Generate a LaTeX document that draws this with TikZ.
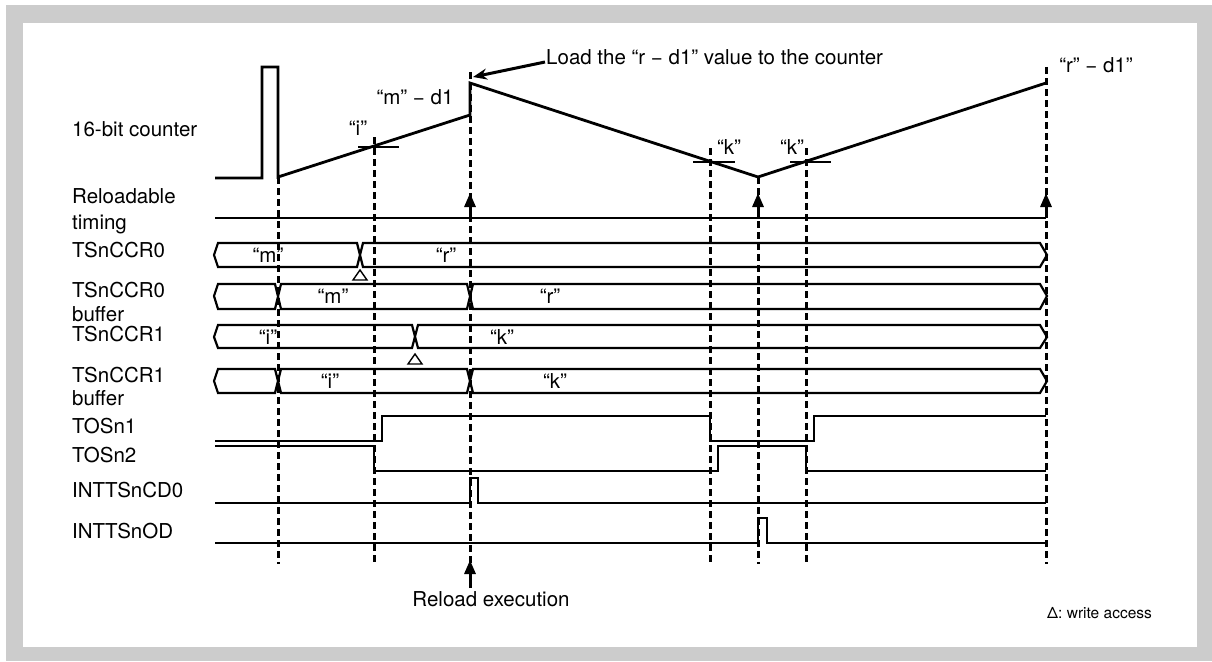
\documentclass[tikz,border=0pt]{standalone}
\usepackage{fontspec}
\setmainfont{TeX Gyre Heros}
\usetikzlibrary{arrows.meta}
\definecolor{framegray}{HTML}{CCCCCC}
\begin{document}
\begin{tikzpicture}[x=1pt,y=-1pt,
  wave/.style={line width=2.8pt, line join=miter},
  vdash/.style={line width=3pt, dash pattern=on 7pt off 4pt},
  bus/.style={line width=2.2pt, line join=miter},
  lbl/.style={font=\fontsize{20.5}{23}\selectfont, inner sep=0pt},
  sig/.style={lbl, anchor=base west},
  uparrow/.style={line width=3pt, -{Triangle[length=14pt,width=11pt]}},
  wtri/.style={line width=1.4pt, line join=miter}]
\useasboundingbox (0,0) rectangle (1212,661);
\fill[white] (0,0) rectangle (1212,661);
\fill[framegray] (6,5) rectangle (1212,661);
\fill[white] (23,23) rectangle (1197,647);

% dashed guide lines
\coordinate (d1t) at (278,177); \coordinate (d1b) at (278,564);
\coordinate (d2t) at (374,137); \coordinate (d2b) at (374,564);
\coordinate (d3t) at (470,72);  \coordinate (d3b) at (470,564);
\coordinate (d4t) at (710,148); \coordinate (d4b) at (710,564);
\coordinate (d5t) at (758,177); \coordinate (d5b) at (758,564);
\coordinate (d6t) at (806,148); \coordinate (d6b) at (806,564);
\coordinate (d7t) at (1046,67); \coordinate (d7b) at (1046,564);
\foreach \i in {1,...,7} {\draw[vdash] (d\i t) -- (d\i b);}

% signal labels
\node[sig] (lcnt) at (72,136) {16-bit counter};
\node[sig] (lrel1) at (72,203) {Reloadable};
\node[sig] (lrel2) at (72,229) {timing};
\node[sig] (lccr0) at (72,257) {TSnCCR0};
\node[sig] (lccr0b1) at (72,297) {TSnCCR0};
\node[sig] (lccr0b2) at (72,321) {buffer};
\node[sig] (lccr1) at (72,341) {TSnCCR1};
\node[sig] (lccr1b1) at (72,382) {TSnCCR1};
\node[sig] (lccr1b2) at (72,405) {buffer};
\node[sig] (ltos1) at (72,433) {TOSn1};
\node[sig] (ltos2) at (72,462) {TOSn2};
\node[sig] (lcd0) at (72,497) {INTTSnCD0};
\node[sig] (lod) at (72,538) {INTTSnOD};

% 16-bit counter
\draw[wave] (215,178) -- (262,178) -- (262,67) -- (278,67) -- (278,177)
  -- (470,115) -- (470,83) -- (758,177) -- (1046,83);
\draw[wave] (358,147) -- (399,147);
\draw[wave] (693,162) -- (735,162);
\draw[wave] (790,162) -- (831,162);
\node[lbl] (ti) at (358,128) {“i”};
\node[lbl] (tmd) at (415,97) {“m” − d1};
\node[lbl] (tk1) at (729,147) {“k”};
\node[lbl] (tk2) at (792,147) {“k”};
\node[lbl] (trd) at (1096,65) {“r” − d1”};
\node[lbl, anchor=west] (tload) at (546,57) {Load the “r − d1” value to the counter};
\coordinate (loadtip) at (473,77);
\draw[line width=3pt, -{Stealth[length=14pt,width=11pt]}] (tload.west) ++(-1,5) -- (loadtip);

% reloadable timing
\draw[wave] (215,218) -- (1046,218);
\foreach \x in {470,758,1046} {\draw[uparrow] (\x,218) -- (\x,193);}

% TSnCCR0
\draw[bus] (218,243) -- (214,255) -- (218,267) -- (357,267) -- (363,243) -- (1040,243)
  -- (1047,255) -- (1040,267) -- (363,267) -- (357,243) -- cycle;
\node[lbl] (b0m) at (268,255) {“m”};
\node[lbl] (b0r) at (446,255) {“r”};
\draw[wtri] (353,280) -- (360,270) -- (367,280) -- cycle;

% TSnCCR0 buffer
\draw[bus] (218,284) -- (214,296) -- (218,309) -- (275,309) -- (281,284) -- (467,284)
  -- (473,309) -- (1040,309) -- (1047,296) -- (1040,284) -- (473,284) -- (467,309)
  -- (281,309) -- (275,284) -- cycle;
\node[lbl] (b1m) at (333,296) {“m”};
\node[lbl] (b1r) at (550,296) {“r”};

% TSnCCR1
\draw[bus] (218,325) -- (214,337) -- (218,348) -- (412,348) -- (418,325) -- (1040,325)
  -- (1047,337) -- (1040,348) -- (418,348) -- (412,325) -- cycle;
\node[lbl] (b2i) at (268,337) {“i”};
\node[lbl] (b2k) at (502,337) {“k”};
\draw[wtri] (408,364) -- (415,354) -- (422,364) -- cycle;

% TSnCCR1 buffer
\draw[bus] (218,369) -- (214,381) -- (218,393) -- (275,393) -- (281,369) -- (467,369)
  -- (473,393) -- (1040,393) -- (1047,381) -- (1040,369) -- (473,369) -- (467,393)
  -- (281,393) -- (275,369) -- cycle;
\node[lbl] (b3i) at (330,381) {“i”};
\node[lbl] (b3k) at (555,381) {“k”};

% TOSn1 / TOSn2
\draw[wave] (215,441) -- (382,441) -- (382,416) -- (710,416) -- (710,441) -- (814,441)
  -- (814,416) -- (1046,416);
\draw[wave] (215,446) -- (374,446) -- (374,471) -- (718,471) -- (718,446) -- (806,446)
  -- (806,471) -- (1046,471);

% INTTSnCD0 / INTTSnOD
\draw[wave] (215,503) -- (470,503) -- (470,478) -- (478,478) -- (478,503) -- (1046,503);
\draw[wave] (215,543) -- (758,543) -- (758,518) -- (767,518) -- (767,543) -- (1046,543);

% reload execution
\node[lbl] (treload) at (491,599) {Reload execution};
\coordinate (reltip) at (470,560);
\draw[uparrow] (470,588) -- (reltip);

% legend
\node[font=\fontsize{15.5}{18}\selectfont, inner sep=0pt, anchor=west] (legend) at (1047,613) {Δ: write access};
\end{tikzpicture}
\end{document}
